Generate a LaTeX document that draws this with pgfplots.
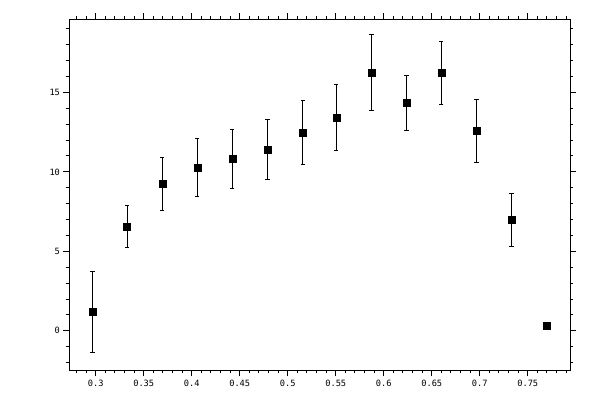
\documentclass[border=0pt]{standalone}
\usepackage{pgfplots}
\usepackage{fontspec}
\pgfplotsset{compat=1.18}
\newfontfamily\tickfont{DejaVu Sans Mono}

\pgfplotstableread{
x       y      e
0.2965  1.18   2.56
0.3326  6.55   1.31
0.3694  9.24   1.69
0.4058  10.25  1.83
0.4423  10.80  1.86
0.4788  11.39  1.90
0.5156  12.46  2.00
0.5506  13.42  2.05
0.5871  16.24  2.40
0.6236  14.33  1.73
0.6600  16.22  1.98
0.6965  12.58  1.97
0.7330  6.98   1.65
0.7694  0.30   0
}\points

\begin{document}
\begin{tikzpicture}
% page is 600x400 px at 0.75pt per px
\path[use as bounding box] (-52pt,-22.3pt) rectangle (398pt,277.7pt);
\begin{axis}[
    scale only axis,
    width=375.5pt, height=263.25pt,
    xmin=0.2725, xmax=0.794,
    ymin=-2.48, ymax=19.6,
    xtick={0.3,0.35,0.4,0.45,0.5,0.55,0.6,0.65,0.7,0.75},
    xticklabels={0.3,0.35,0.4,0.45,0.5,0.55,0.6,0.65,0.7,0.75},
    ytick={0,5,10,15},
    minor xtick={0.28,0.29,0.31,0.32,0.33,0.34,0.36,0.37,0.38,0.39,
                 0.41,0.42,0.43,0.44,0.46,0.47,0.48,0.49,0.51,0.52,0.53,0.54,
                 0.56,0.57,0.58,0.59,0.61,0.62,0.63,0.64,0.66,0.67,0.68,0.69,
                 0.71,0.72,0.73,0.74,0.76,0.77,0.78,0.79},
    minor ytick={-2,-1,1,2,3,4,6,7,8,9,11,12,13,14,16,17,18,19},
    tick align=outside,
    major tick length=4.5pt,
    minor tick length=2.25pt,
    axis line style={line width=0.75pt},
    every tick/.style={black, line width=0.75pt},
    tick label style={font=\tickfont\fontsize{6.5}{7}\selectfont},
    /pgf/number format/assume math mode=true,
    xticklabel style={yshift=1pt},
    yticklabel style={xshift=1pt},
]
\addplot[
    only marks, black,
    mark=square*, mark size=2.6pt,
    error bars/.cd,
        y dir=both, y explicit,
        error bar style={line width=0.75pt, black},
        error mark options={rotate=90, mark size=1.6pt, line width=0.75pt, black},
] table[x=x, y=y, y error=e] {\points};
\end{axis}
\end{tikzpicture}
\end{document}
